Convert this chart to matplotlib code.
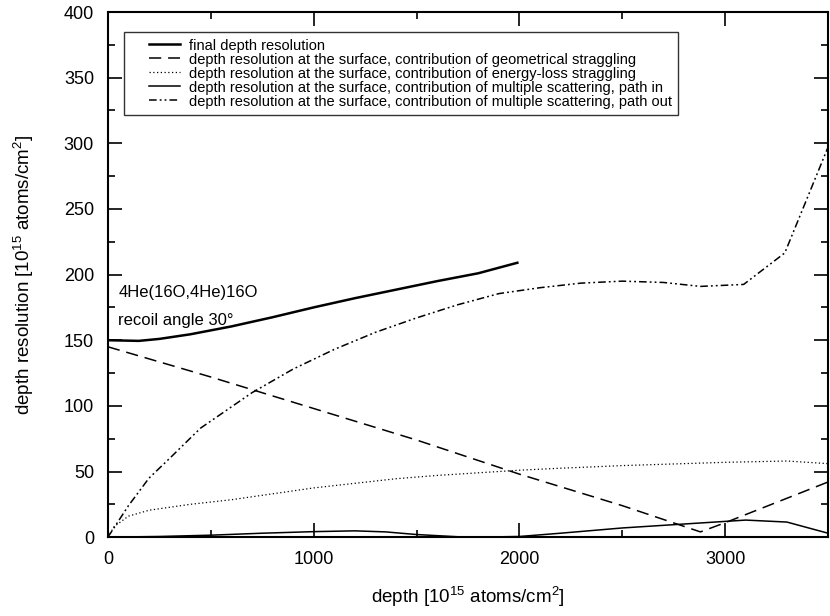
import numpy as np
import matplotlib
matplotlib.use('Agg')
import matplotlib.pyplot as plt
from matplotlib.ticker import MultipleLocator
from matplotlib.lines import Line2D
from matplotlib.legend_handler import HandlerLine2D

plt.rcParams['font.family'] = ['Liberation Sans', 'DejaVu Sans']
plt.rcParams['mathtext.fontset'] = 'custom'
plt.rcParams['mathtext.rm'] = 'Liberation Sans'
plt.rcParams['mathtext.it'] = 'Liberation Sans:italic'

# final depth resolution
final_x = [0, 150, 250, 400, 600, 800, 1000, 1200, 1400, 1600, 1800, 1990]
final_y = [150, 149.5, 151, 154.5, 160.5, 167.5, 175, 182, 188.5, 195, 201, 209]

# geometrical straggling
geo_x = [0, 500, 1000, 1500, 2000, 2500, 2880, 3000, 3500]
geo_y = [145, 122, 98, 74, 48, 24, 4, 11, 42]

# energy-loss straggling
eloss_x = [0, 30, 100, 200, 400, 600, 800, 1000, 1200, 1400, 1600, 1800,
           2000, 2200, 2500, 2800, 3000, 3300, 3500]
eloss_y = [0, 8, 16, 20.5, 25, 28.5, 33, 37.5, 41, 44.5, 47, 49,
           51, 52.5, 54.5, 56, 57, 58, 56]

# multiple scattering, path in
ms_in_x = [0, 250, 500, 750, 1000, 1200, 1350, 1500, 1700, 1800, 2000,
           2200, 2500, 2800, 3000, 3100, 3300, 3500]
ms_in_y = [0, 0.5, 1.5, 3, 4.2, 4.8, 4, 2, 0.3, 0, 0.5,
           3, 7, 10, 12, 13, 11.5, 3]

# multiple scattering, path out
ms_out_x = [0, 50, 100, 200, 300, 450, 700, 900, 1100, 1300, 1500, 1700,
            1900, 2100, 2300, 2500, 2700, 2880, 3090, 3290, 3500]
ms_out_y = [0, 12, 24, 45, 60, 83, 110, 128, 143, 156, 167, 177,
            185.5, 190, 193.5, 195, 194, 191, 192.5, 216.5, 297]

labels = [
    'final depth resolution',
    'depth resolution at the surface, contribution of geometrical straggling',
    'depth resolution at the surface, contribution of energy-loss straggling',
    'depth resolution at the surface, contribution of multiple scattering, path in',
    'depth resolution at the surface, contribution of multiple scattering, path out',
]

fig = plt.figure(figsize=(8.3, 6.16), dpi=100)
ax = fig.add_axes([0.130, 0.128, 0.8676, 0.8525])

ax.plot(final_x, final_y, color='black', lw=1.8, label=labels[0])
ax.plot(geo_x, geo_y, color='black', lw=1.1, linestyle=(0, (8, 4.5)), label=labels[1])
ax.plot(eloss_x, eloss_y, color='black', lw=0.9, linestyle=(0, (1, 2)), label=labels[2])
ax.plot(ms_in_x, ms_in_y, color='black', lw=1.1, label=labels[3])
ax.plot(ms_out_x, ms_out_y, color='black', lw=1.1,
        linestyle=(0, (5, 2, 1.2, 2, 1.2, 2)), label=labels[4])

ax.set_xlim(0, 3500)
ax.set_ylim(0, 400)
ax.xaxis.set_major_locator(MultipleLocator(1000))
ax.xaxis.set_minor_locator(MultipleLocator(500))
ax.yaxis.set_major_locator(MultipleLocator(50))
ax.yaxis.set_minor_locator(MultipleLocator(25))
ax.tick_params(which='both', direction='in', top=True, right=True, width=1.2,
               labelsize=13)
ax.tick_params(which='major', length=10, pad=10)
ax.tick_params(which='minor', length=5)
for sp in ax.spines.values():
    sp.set_linewidth(1.5)

ax.set_xlabel('depth [10$^{15}$ atoms/cm$^2$]', fontsize=13.5, labelpad=12)
ax.set_ylabel('depth resolution [10$^{15}$ atoms/cm$^2$]', fontsize=13.5, labelpad=20)

ax.text(50, 186, '4He(16O,4He)16O', fontsize=12, va='center')
ax.text(50, 165, 'recoil angle 30°', fontsize=12, va='center')

# short handles, indented inside the box
leg = ax.legend(loc='upper left', bbox_to_anchor=(0.022, 0.962), fontsize=10.5,
                frameon=True, fancybox=False, edgecolor='black',
                handlelength=3.4, handletextpad=0.6, labelspacing=0.0,
                borderpad=0.45, borderaxespad=0,
                handler_map={Line2D: HandlerLine2D(xpad=1.25)})
leg.get_frame().set_linewidth(1.0)

fig.savefig('out.png', dpi=100)
